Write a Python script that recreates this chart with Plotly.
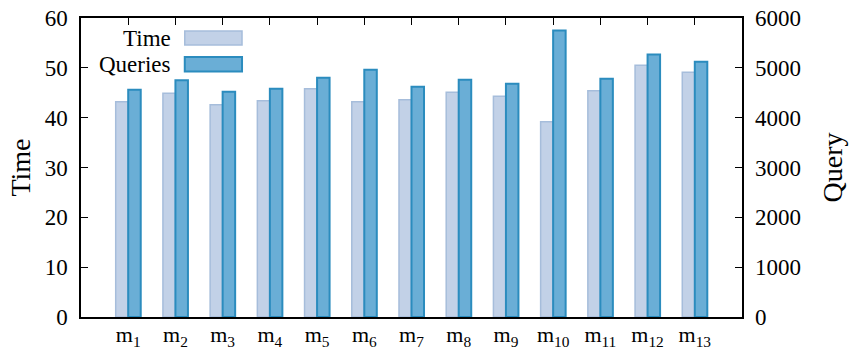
import plotly.graph_objects as go

# Per-method measurements
methods = ["m<sub>%d</sub>" % i for i in range(1, 14)]
time_vals = [43.2, 44.9, 42.6, 43.4, 45.8, 43.2, 43.6, 45.1, 44.3, 39.2, 45.4, 50.5, 49.1]
query_vals = [4560, 4750, 4520, 4580, 4800, 4960, 4620, 4760, 4680, 5750, 4780, 5270, 5120]

time_ticks = [0, 10, 20, 30, 40, 50, 60]
query_ticks = [0, 1000, 2000, 3000, 4000, 5000, 6000]

positions = list(range(len(methods)))

FONT = "Liberation Serif, Times New Roman, Times, DejaVu Serif, serif"
TIME_FILL, TIME_LINE = "#c2d1e7", "#a6bddb"
QUERY_FILL, QUERY_LINE = "#6aaed6", "#2b8cbe"
BAR_W = 0.265

fig = go.Figure()

fig.add_trace(go.Bar(
    x=positions, y=time_vals, name="Time",
    width=BAR_W, offset=-BAR_W,
    marker=dict(color=TIME_FILL, line=dict(color=TIME_LINE, width=1.5)),
    xaxis="x", yaxis="y",
))
fig.add_trace(go.Bar(
    x=positions, y=query_vals, name="Queries",
    width=BAR_W, offset=0,
    marker=dict(color=QUERY_FILL, line=dict(color=QUERY_LINE, width=2)),
    xaxis="x", yaxis="y2",
))
# carrier trace for the top tick axis
fig.add_trace(go.Scatter(x=positions, y=[None] * len(positions), xaxis="x2", yaxis="y",
                         showlegend=False, hoverinfo="skip"))

axis_font = dict(family=FONT, size=23, color="black")
title_font = dict(family=FONT, size=28, color="black")

fig.update_layout(
    width=853, height=352,
    margin=dict(l=81, r=111, t=18, b=35),
    paper_bgcolor="white", plot_bgcolor="white",
    showlegend=False,
    barmode="overlay",
    font=dict(family=FONT, color="black"),
    xaxis=dict(
        range=[-1, 13], tickvals=positions, ticktext=methods,
        ticks="", showline=True, linecolor="black", linewidth=1.5, mirror=True,
        showgrid=False, zeroline=False, tickfont=dict(family=FONT, size=22, color="black"),
        automargin=False, ticklabelstandoff=-3,
    ),
    xaxis2=dict(
        range=[-1, 13], tickvals=positions, overlaying="x", side="top", anchor="y",
        ticks="inside", ticklen=7, tickcolor="black", tickwidth=1,
        showticklabels=False, showline=False, showgrid=False, zeroline=False,
        automargin=False,
    ),
    yaxis=dict(
        range=[0, 60], tickvals=time_ticks, ticks="inside", ticklen=7, tickcolor="black",
        showline=True, linecolor="black", linewidth=1.5, mirror=True,
        showgrid=False, zeroline=False, tickfont=axis_font, automargin=False,
        ticklabelstandoff=7,
        title=dict(text="Time", font=title_font, standoff=6),
    ),
    yaxis2=dict(
        range=[0, 6000], tickvals=query_ticks, ticks="inside", ticklen=7, tickcolor="black",
        overlaying="y", side="right", anchor="x",
        showline=False, showgrid=False, zeroline=False, tickfont=axis_font,
        automargin=False, ticklabelstandoff=12,
        title=dict(text="Query", font=title_font, standoff=22),
    ),
)

# Legend: label text to the left of each swatch
legend_rows = [("Time", TIME_FILL, TIME_LINE, 1.5, 0.9565, 0.9097),
               ("Queries", QUERY_FILL, QUERY_LINE, 2, 0.8696, 0.821)]
for label, fill, line, lw, y1, y0 in legend_rows:
    fig.add_shape(type="rect", xref="paper", yref="paper",
                  x0=0.157, x1=0.2436, y0=y0, y1=y1,
                  fillcolor=fill, line=dict(color=line, width=lw))
    fig.add_annotation(xref="paper", yref="paper", x=0.139, y=(y0 + y1) / 2,
                       text=label, showarrow=False, xanchor="right", yanchor="middle",
                       font=dict(family=FONT, size=23, color="black"))

fig.write_html("out.html")
